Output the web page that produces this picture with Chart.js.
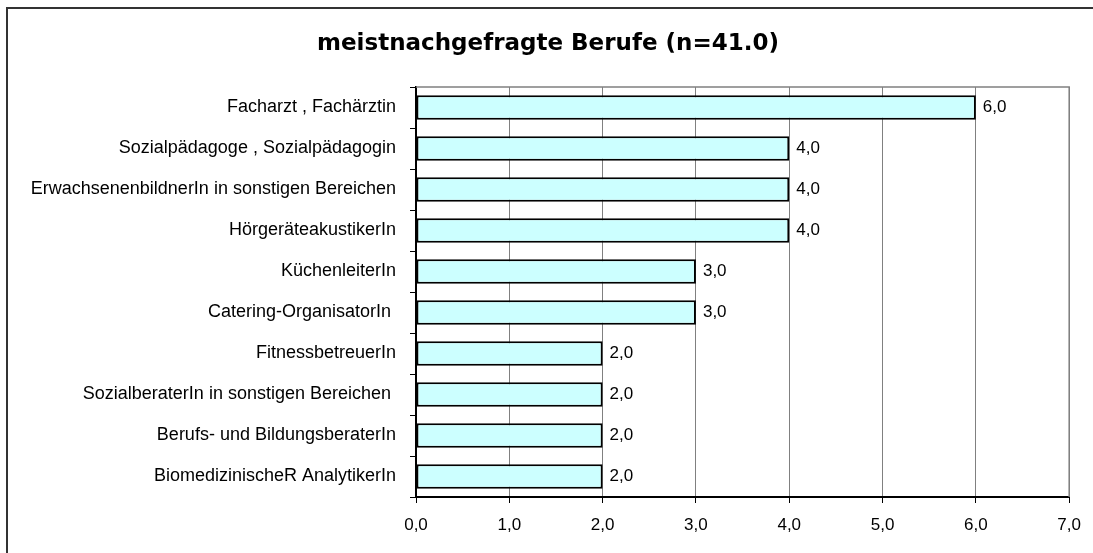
<!DOCTYPE html>
<html>
<head>
<meta charset="utf-8">
<script src="https://cdn.jsdelivr.net/npm/chart.js@4.4.1/dist/chart.umd.min.js"></script>
<style>
  html, body { margin: 0; padding: 0; background: #fff; }
</style>
</head>
<body>
<canvas id="chart" width="1093" height="553"></canvas>
<script>
// data
const titel = 'meistnachgefragte Berufe (n=41.0)'
const berufe = [
  'Facharzt , Fachärztin',
  'Sozialpädagoge , Sozialpädagogin',
  'ErwachsenenbildnerIn in sonstigen Bereichen',
  'HörgeräteakustikerIn',
  'KüchenleiterIn',
  'Catering-OrganisatorIn ',
  'FitnessbetreuerIn',
  'SozialberaterIn in sonstigen Bereichen ',
  'Berufs- und BildungsberaterIn',
  'BiomedizinischeR AnalytikerIn'
]
const anzahl = [6, 4, 4, 4, 3, 3, 2, 2, 2, 2]
const xMin = 0
const xMax = 7

const komma = v => Number(v).toFixed(1).replace('.', ',')
const schrift = { family: '"Liberation Sans", Arial, sans-serif', size: 18 }
const tickSchrift = { family: '"Liberation Sans", Arial, sans-serif', size: 17 }

// white background + outer frame of the chart
const rahmen = {
  id: 'rahmen',
  beforeDraw(chart) {
    const ctx = chart.ctx
    ctx.save()
    ctx.fillStyle = '#fff'
    ctx.fillRect(0, 0, chart.width, chart.height)
    ctx.strokeStyle = '#333'
    ctx.lineWidth = 2
    ctx.strokeRect(7, 8, chart.width + 50, chart.height + 50)
    ctx.restore()
  },
  beforeDatasetsDraw(chart) {
    // grey top and right edge of the plot area
    const a = chart.chartArea
    const ctx = chart.ctx
    ctx.save()
    ctx.strokeStyle = '#808080'
    ctx.lineWidth = 1.5
    ctx.beginPath()
    ctx.moveTo(a.left, a.top)
    ctx.lineTo(a.right, a.top)
    ctx.lineTo(a.right, a.bottom)
    ctx.stroke()
    ctx.restore()
  }
}

// value next to each bar
const werte = {
  id: 'werte',
  afterDatasetsDraw(chart) {
    const ctx = chart.ctx
    const meta = chart.getDatasetMeta(0)
    ctx.save()
    ctx.fillStyle = '#000'
    ctx.font = `${tickSchrift.size}px ${tickSchrift.family}`
    ctx.textBaseline = 'middle'
    ctx.textAlign = 'left'
    meta.data.forEach((bar, i) => {
      ctx.fillText(komma(anzahl[i]), bar.x + 7, bar.y)
    })
    ctx.restore()
  }
}

new Chart(document.getElementById('chart'), {
  type: 'bar',
  data: {
    labels: berufe,
    datasets: [{
      data: anzahl,
      backgroundColor: '#ccffff',
      borderColor: '#000',
      borderWidth: 2,
      borderSkipped: false,
      barPercentage: 0.6,
      categoryPercentage: 1.0
    }]
  },
  options: {
    indexAxis: 'y',
    responsive: false,
    animation: false,
    layout: { padding: { left: 25, right: 22, top: 0, bottom: 0 } },
    plugins: {
      legend: { display: false },
      tooltip: { enabled: false },
      title: {
        display: true,
        text: titel,
        color: '#000',
        font: { family: '"DejaVu Sans", Verdana, sans-serif', size: 23, weight: 'bold' },
        padding: { top: 30, bottom: 29.4 }
      }
    },
    scales: {
      x: {
        min: xMin,
        max: xMax,
        ticks: {
          stepSize: 1,
          color: '#000',
          font: tickSchrift,
          padding: 12,
          maxRotation: 0,
          callback: v => komma(v)
        },
        grid: { color: '#808080', lineWidth: 1, tickColor: '#000', tickLength: 6 },
        border: { color: '#000', width: 2 },
        afterFit(s) { s.height = 56 }
      },
      y: {
        ticks: { color: '#000', font: schrift, padding: 14, autoSkip: false },
        grid: { offset: true, drawOnChartArea: false, tickColor: '#000', tickLength: 6 },
        border: { color: '#000', width: 2 },
        afterFit(s) { s.width = 391 }
      }
    }
  },
  plugins: [rahmen, werte]
})
</script>
</body>
</html>
